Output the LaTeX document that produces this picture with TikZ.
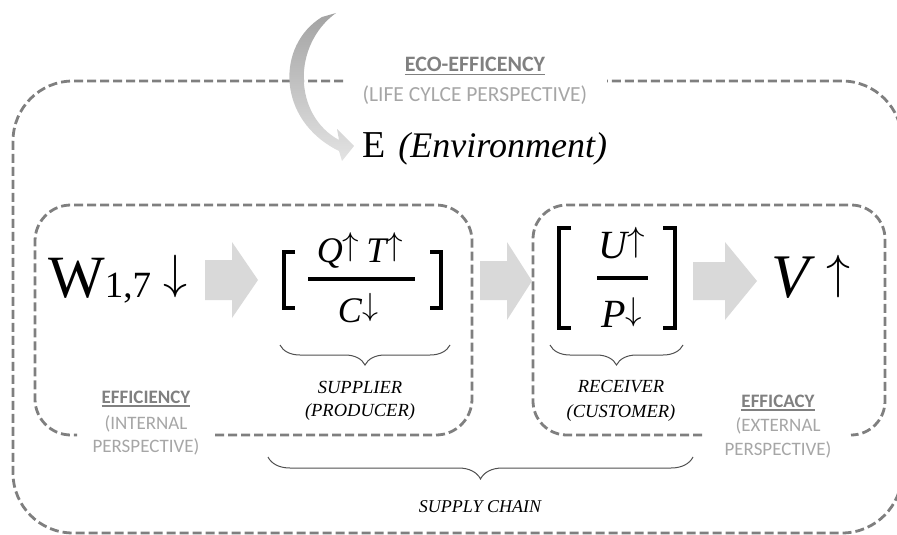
\RequirePackage{fix-cm}
\documentclass[tikz,border=0pt]{standalone}
\usepackage{graphicx}
\usepackage{fontspec}
\setmainfont{Liberation Serif}
\newfontfamily\calibri{Carlito}
\usetikzlibrary{decorations.pathreplacing}
\definecolor{dashgrey}{HTML}{7F7F7F}
\definecolor{arrowgrey}{HTML}{D9D9D9}
\definecolor{labgrey}{HTML}{A6A6A6}
\definecolor{headgrey}{HTML}{808080}
\definecolor{bracegrey}{HTML}{505050}
\definecolor{curvetop}{HTML}{A3A3A3}
\definecolor{curvebot}{HTML}{E3E3E3}
\newcommand{\myul}[1]{\setbox0\hbox{#1}\rlap{\rule[-3.5pt]{\wd0}{1.6pt}}\box0}
\newcommand{\upa}[1]{{\upshape\fontsize{#1}{#1}\selectfont\raisebox{0.194em}{$\uparrow$}}}
\newcommand{\downa}[1]{{\upshape\fontsize{#1}{#1}\selectfont\raisebox{0.194em}{$\downarrow$}}}
\begin{document}
\begin{tikzpicture}[x=1pt,y=-1pt,
  dashbox/.style={draw=dashgrey, line width=2.8pt, dash pattern=on 9pt off 4pt},
  blockarr/.style={fill=arrowgrey, draw=none},
  bracket/.style={draw=black, line width=4pt, line join=miter},
  fracbar/.style={draw=black, line width=3.5pt},
  bracebr/.style={draw=bracegrey, line width=1pt, decorate, decoration={brace, mirror, amplitude=#1}},
  txt/.style={inner sep=0pt, anchor=base},
  headlab/.style={txt, text=headgrey, font=\calibri\bfseries\fontsize{19}{19}\selectfont},
  lab/.style={txt, text=labgrey, font=\calibri\fontsize{19}{19}\selectfont},
  role/.style={txt, font=\itshape\fontsize{18.5}{18.5}\selectfont},
]
\useasboundingbox (0,0) rectangle (897,535);
\clip (0,0) rectangle (897,535);

% outer eco-efficiency box
\draw[dashbox, rounded corners=60pt] (343,81) -- (13,81) -- (13,533) -- (902,533) -- (902,81) -- (607,81);
% inner boxes
\draw[dashbox, rounded corners=36pt] (215,435) -- (472,435) -- (472,205) -- (35,205) -- (35,435) -- (77,435);
\draw[dashbox, rounded corners=34pt] (702,435) -- (533,435) -- (533,205) -- (885,205) -- (885,435) -- (851,435);

% curved arrow
\shade[top color=curvetop, bottom color=curvebot]
  (336,13) -- (322,17) .. controls (276,45) and (276,120) .. (339,151)
  -- (342,161) -- (354,146) -- (337,129) -- (339,140)
  .. controls (293,115) and (292,45) .. (336,13) -- cycle;

% top labels
\node[headlab, font=\calibri\bfseries\fontsize{22}{22}\selectfont] (eco) at (475,72) {\myul{ECO-EFFICENCY}};
\node[lab, font=\calibri\fontsize{21.5}{21.5}\selectfont] (lcp) at (475,102) {(LIFE CYLCE PERSPECTIVE)};
\node[txt, anchor=base west] (env) at (362,157) {\fontsize{38}{38}\selectfont E\hspace{13pt}\fontsize{36}{36}\selectfont\itshape (Environment)};

% W
\node[txt, anchor=base west] (w) at (48,297) {\fontsize{60}{60}\selectfont W\fontsize{37}{37}\selectfont 1,7};
\node[txt] (wdown) at (175,298) {\downa{48}};

% supplier fraction
\node[txt] (num1) at (360,262) {\fontsize{36}{36}\selectfont\itshape Q\upa{33}\hspace{7pt}T\upa{33}};
\node[txt] (den1) at (358,322) {\fontsize{36}{36}\selectfont\itshape C\downa{32}};
\draw[fracbar] (308,279) -- (415,279);
\draw[bracket] (295,252) -- (284,252) -- (284,308) -- (295,308);
\draw[bracket] (430,252) -- (441,252) -- (441,308) -- (430,308);

% receiver fraction
\node[txt] (num2) at (622,258) {\fontsize{40}{40}\selectfont\itshape U\upa{35}};
\node[txt] (den2) at (622,327) {\fontsize{40}{40}\selectfont\itshape P\downa{33}};
\draw[fracbar] (597,278) -- (648,278);
\draw[bracket] (571,228) -- (559,228) -- (559,328) -- (571,328);
\draw[bracket] (663,228) -- (675,228) -- (675,328) -- (663,328);

% V
\node[txt, anchor=base west] (v) at (771,297) {\fontsize{62}{62}\selectfont\itshape V};
\node[txt] (vup) at (838,298) {\upa{48}};

% block arrows
\fill[blockarr] (205,260) -- (232,260) -- (232,242) -- (258,280) -- (232,318) -- (232,300) -- (205,300) -- cycle;
\fill[blockarr] (480,261) -- (507,261) -- (507,242) -- (532,281) -- (507,320) -- (507,300) -- (480,300) -- cycle;
\fill[blockarr] (693,262) -- (725,262) -- (725,242) -- (757,281) -- (725,320) -- (725,300) -- (693,300) -- cycle;

% braces
\draw[bracebr=20pt] (280,345) -- (450,345);
\draw[bracebr=20pt] (550,345) -- (683,345);
\draw[bracebr=22pt] (268,457) -- (693,457);

\node[role] (sup1) at (360,393) {SUPPLIER};
\node[role] (sup2) at (360,416) {(PRODUCER)};
\node[role] (rec1) at (621,392) {RECEIVER};
\node[role] (rec2) at (621,417) {(CUSTOMER)};
\node[role, font=\itshape\fontsize{18}{18}\selectfont] (chain) at (480,512) {SUPPLY CHAIN};

% bottom labels
\node[headlab] (eff1) at (146,403) {\myul{EFFICIENCY}};
\node[lab] (eff2) at (146,429) {(INTERNAL};
\node[lab] (eff3) at (146,452) {PERSPECTIVE)};
\node[headlab] (efc1) at (778,407) {\myul{EFFICACY}};
\node[lab] (efc2) at (778,431) {(EXTERNAL};
\node[lab] (efc3) at (778,455) {PERSPECTIVE)};
\end{tikzpicture}
\end{document}
